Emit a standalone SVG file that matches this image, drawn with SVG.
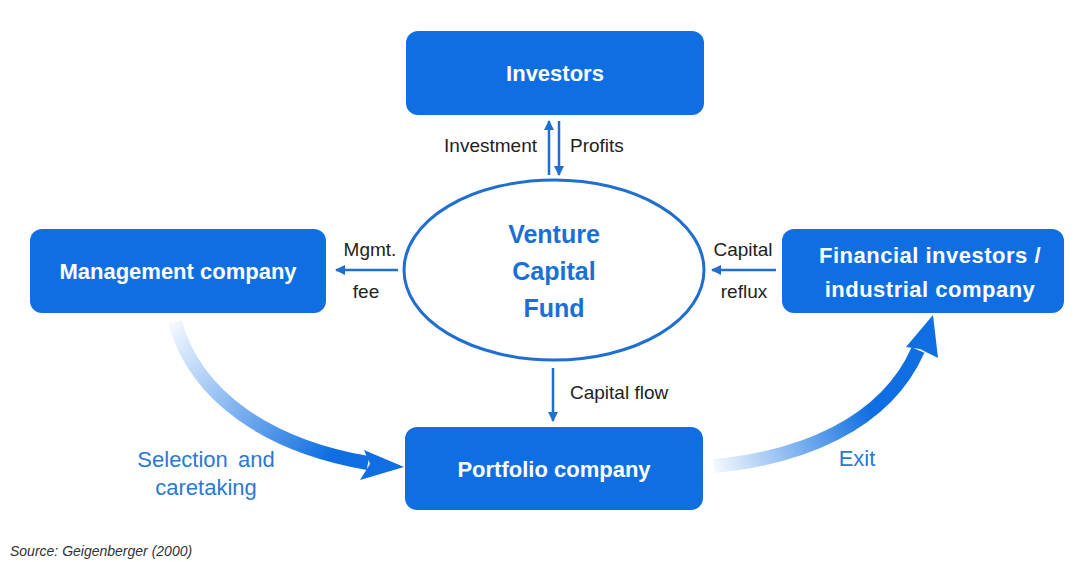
<svg xmlns="http://www.w3.org/2000/svg" width="1078" height="562" viewBox="0 0 1078 562">
<style>
.box{fill:#0f6fe2;}
.bt{fill:#ffffff;font-family:"Liberation Sans",Arial,sans-serif;font-weight:bold;font-size:22px;text-anchor:middle;}
.lbl{fill:#222222;font-family:"Liberation Sans",Arial,sans-serif;font-size:19px;}
.blue{fill:#2a78d6;font-family:"Liberation Sans",Arial,sans-serif;font-size:22px;text-anchor:middle;}
.fund{fill:#1a6fd6;font-family:"Liberation Sans",Arial,sans-serif;font-weight:bold;font-size:25px;text-anchor:middle;}
.ln{stroke:#1f6fd1;stroke-width:2.5;fill:none;}
</style>
<defs>
<marker id="ah" viewBox="0 0 10 10" refX="9" refY="5" markerWidth="4" markerHeight="4" orient="auto-start-reverse" markerUnits="strokeWidth">
<path d="M0,0 L10,5 L0,10 z" fill="#1f6fd1"/>
</marker>
<linearGradient id="gl" gradientUnits="userSpaceOnUse" x1="175" y1="322" x2="330" y2="455">
<stop offset="0" stop-color="#0f6fe2" stop-opacity="0.05"/>
<stop offset="1" stop-color="#0f6fe2" stop-opacity="1"/>
</linearGradient>
<linearGradient id="gr" gradientUnits="userSpaceOnUse" x1="714" y1="466" x2="870" y2="410">
<stop offset="0" stop-color="#0f6fe2" stop-opacity="0.05"/>
<stop offset="1" stop-color="#0f6fe2" stop-opacity="1"/>
</linearGradient>
</defs>
<rect width="1078" height="562" fill="#ffffff"/>
<g id="connectors">
<line class="ln" x1="549" y1="175" x2="549" y2="121" marker-end="url(#ah)"/>
<line class="ln" x1="559" y1="121" x2="559" y2="175" marker-end="url(#ah)"/>
<line class="ln" x1="398" y1="270" x2="336" y2="270" marker-end="url(#ah)"/>
<line class="ln" x1="776" y1="270" x2="712" y2="270" marker-end="url(#ah)"/>
<line class="ln" x1="553" y1="368" x2="553" y2="421" marker-end="url(#ah)"/>
<path d="M175,322 C196,398 270,446 368,463" stroke="url(#gl)" stroke-width="14" fill="none"/>
<path d="M404,467 L364,450 L370,464 L360,480 Z" fill="#0f6fe2"/>
<path d="M714,466 C800,458 885,425 918,350" stroke="url(#gr)" stroke-width="14" fill="none"/>
<path d="M933,315 L906,347 L920,349 L938,358 Z" fill="#0f6fe2"/>
<text class="lbl" x="537" y="152" text-anchor="end">Investment</text>
<text class="lbl" x="570" y="152">Profits</text>
<text class="lbl" x="370" y="256" text-anchor="middle">Mgmt.</text>
<text class="lbl" x="366" y="298" text-anchor="middle">fee</text>
<text class="lbl" x="743" y="256" text-anchor="middle">Capital</text>
<text class="lbl" x="744" y="298" text-anchor="middle">reflux</text>
<text class="lbl" x="570" y="399">Capital flow</text>
<text class="blue" x="206" y="467" word-spacing="4">Selection and</text>
<text class="blue" x="206" y="495">caretaking</text>
<text class="blue" x="857" y="466">Exit</text>
</g>
<g id="investors">
<rect class="box" x="406" y="31" width="298" height="84" rx="12"/>
<text class="bt" x="555" y="81">Investors</text>
</g>
<g id="fund">
<ellipse cx="554" cy="270" rx="150" ry="90" fill="#ffffff" stroke="#1f6fd1" stroke-width="3"/>
<text class="fund" x="554" y="243">Venture</text>
<text class="fund" x="554" y="280">Capital</text>
<text class="fund" x="554" y="317">Fund</text>
</g>
<g id="management">
<rect class="box" x="30" y="229" width="296" height="84" rx="12"/>
<text class="bt" x="178" y="279">Management company</text>
</g>
<g id="financial">
<rect class="box" x="782" y="229" width="282" height="84" rx="12"/>
<text class="bt" x="930" y="263" letter-spacing="0.5">Financial investors /</text>
<text class="bt" x="930" y="297" letter-spacing="0.5">industrial company</text>
</g>
<g id="portfolio">
<rect class="box" x="405" y="427" width="298" height="83" rx="12"/>
<text class="bt" x="554" y="477">Portfolio company</text>
</g>
<text x="10" y="556" font-family="Liberation Sans,Arial,sans-serif" font-style="italic" font-size="14" fill="#333333">Source: Geigenberger (2000)</text>
</svg>
